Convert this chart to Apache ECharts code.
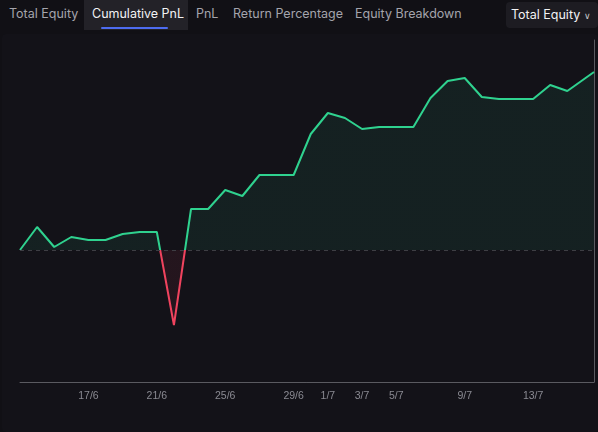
<!DOCTYPE html>
<html>
<head>
<meta charset="utf-8">
<script src="https://cdn.jsdelivr.net/npm/echarts@6/dist/echarts.min.js"></script>
<style>
  html, body { margin: 0; padding: 0; background: #111015; width: 598px; height: 432px; overflow: hidden; font-family: Inter, "Noto Sans", sans-serif; }
  .tabs { position: absolute; left: 0; top: 0; height: 30px; width: 598px; font-size: 12.5px; }
  .tab { position: absolute; top: 0; height: 30px; line-height: 28px; color: #a4a4ac; }
  .tab.active { background: #232228; color: #f2f2f4; }
  .tab.active:after { content: ''; position: absolute; left: 17px; right: 20px; bottom: 1px; height: 2px; background: #4d6cf0; border-radius: 1px; }
  .dd { position: absolute; left: 506px; top: 2px; width: 92px; height: 26px; line-height: 25px; background: #1d1c22; border-radius: 4px; color: #f2f2f4; font-size: 12.5px; padding-left: 5px; box-sizing: border-box; }
  .dd span { font-size: 9px; color: #c8c8cc; margin-left: 4px; }
  .panel { position: absolute; left: 2px; top: 34px; width: 596px; height: 398px; background: #131218; border-radius: 4px; }
  #main { position: absolute; left: 0; top: 0; width: 598px; height: 432px; }
</style>
</head>
<body>
<div class="tabs">
  <div class="tab" style="left:0;width:84px;padding-left:9px;box-sizing:border-box">Total Equity</div>
  <div class="tab active" style="left:84px;width:104px;padding-left:8px;box-sizing:border-box">Cumulative PnL</div>
  <div class="tab" style="left:196px">PnL</div>
  <div class="tab" style="left:233px">Return Percentage</div>
  <div class="tab" style="left:355px">Equity Breakdown</div>
  <div class="dd">Total Equity<span>&#x2228;</span></div>
</div>
<div class="panel"></div>
<div id="main"></div>
<script>
// day offsets from 13/6
var days = [0,1,2,3,4,5,6,7,8,9,10,11,12,13,14,15,16,17,18,19,20,21,22,23,24,25,26,27,28,29,30,31,32,33.56];
var pnl = [0,23,3,13,10,10,16,18,18,-75,41,41,60,54,75,75,75,116,137,132,121,123,123,123,152,169,172,153,151,151,151,165,159,178];
var tickLabels = {4:'17/6',8:'21/6',12:'25/6',16:'29/6',18:'1/7',20:'3/7',22:'5/7',26:'9/7',30:'13/7'};

var points = days.map(function (d, i) { return [d, pnl[i]]; });

var chart = echarts.init(document.getElementById('main'), null, { renderer: 'canvas' });
chart.setOption({
    backgroundColor: 'transparent',
    animation: false,
    grid: { left: 20, right: 4, top: 40, bottom: 50 },
    xAxis: {
        type: 'value', min: 0, max: 33.56, interval: 1,
        axisLine: { show: true, onZero: false, lineStyle: { color: '#5a5a60' } },
        axisTick: { show: false },
        splitLine: { show: false },
        axisLabel: {
            color: '#8a8a92', fontSize: 10.5, margin: 9, showMaxLabel: false,
            formatter: function (v) { return tickLabels[v] || ''; }
        }
    },
    yAxis: {
        type: 'value', min: -132, max: 210, position: 'right',
        axisLine: { show: true, onZero: false, lineStyle: { color: '#5a5a60' } },
        axisLabel: { show: false }, axisTick: { show: false }, splitLine: { show: false }
    },
    series: [{
        type: 'line',
        data: points,
        symbol: 'none',
        lineStyle: { width: 2, color: '#2fd28f' },
        areaStyle: { opacity: 0.07, origin: 0, color: '#2fd28f' },
        markLine: {
            silent: true, symbol: 'none', label: { show: false },
            lineStyle: { color: '#3e3e44', type: [4, 4], width: 1 },
            data: [{ yAxis: 0 }]
        }
    }]
});

// split colour at the zero line
var zeroY = chart.convertToPixel({ yAxisIndex: 0 }, 0);
var h = 432, s = zeroY / h;
function split(up, down) {
    return new echarts.graphic.LinearGradient(0, 0, 0, h, [
        { offset: 0, color: up }, { offset: s, color: up },
        { offset: s, color: down }, { offset: 1, color: down }
    ], true);
}
chart.setOption({
    series: [{
        lineStyle: { color: split('#2fd28f', '#f0435e') },
        areaStyle: { opacity: 0.08, color: split('#2fd28f', '#f0435e') }
    }]
});
</script>
</body>
</html>
